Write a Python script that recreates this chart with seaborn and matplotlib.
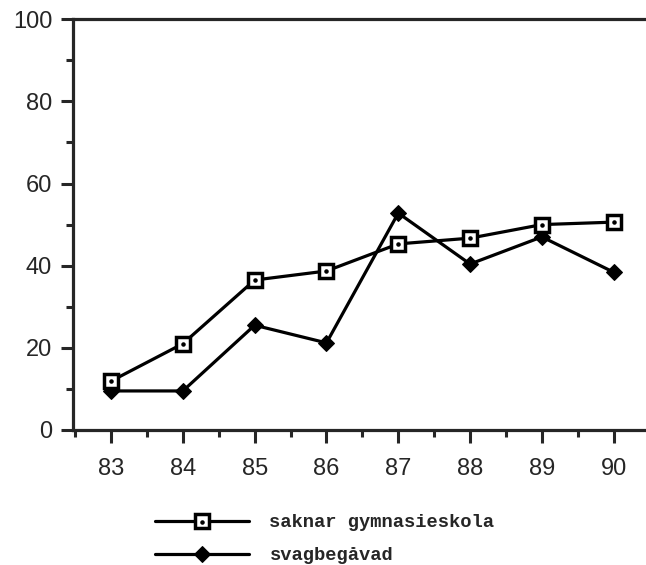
import matplotlib
matplotlib.use("Agg")
import matplotlib.pyplot as plt
import seaborn as sns
import pandas as pd
from matplotlib.ticker import MultipleLocator
from matplotlib.legend_handler import HandlerTuple

years = [83, 84, 85, 86, 87, 88, 89, 90]
saknar = [11.9, 21, 36.5, 38.7, 45.3, 46.7, 50, 50.6]
svag = [9.5, 9.5, 25.5, 21.2, 52.8, 40.4, 47, 38.4]
labels = ["saknar gymnasieskola", "svagbegåvad"]

sns.set_style("ticks")
plt.rcParams['font.family'] = ['Liberation Sans', 'DejaVu Sans']

fig = plt.figure(figsize=(6.46, 5.65), dpi=100)
ax = fig.add_axes([0.113, 0.239, 0.887, 0.727])

df = pd.DataFrame({"year": years, "saknar": saknar, "svag": svag})

sns.lineplot(data=df, x="year", y="svag", ax=ax, color="black", lw=2.3,
             marker="D", markersize=8.5, markerfacecolor="black",
             markeredgecolor="black")
sns.lineplot(data=df, x="year", y="saknar", ax=ax, color="black", lw=2.3,
             marker="s", markersize=9.5, markerfacecolor="white",
             markeredgecolor="black", markeredgewidth=2.5)
# the small dot inside each square
dots = ax.scatter(df["year"], df["saknar"], s=5, color="black", zorder=5)

ax.set_xlim(82.47, 90.45)
ax.set_ylim(0, 100)
ax.xaxis.set_major_locator(MultipleLocator(1))
ax.xaxis.set_minor_locator(MultipleLocator(0.5))
ax.yaxis.set_major_locator(MultipleLocator(20))
ax.yaxis.set_minor_locator(MultipleLocator(10))
ax.set_xlabel("")
ax.set_ylabel("")
ax.tick_params(which="major", direction="out", length=9, width=2.2,
               labelsize=17, pad=6)
ax.tick_params(axis="x", which="major", pad=11)
ax.tick_params(which="minor", direction="out", length=5, width=2.2)
for s in ["left", "bottom", "top"]:
    ax.spines[s].set_linewidth(2.3)
ax.spines["right"].set_visible(False)

l1 = ax.lines[1]
l2 = ax.lines[0]
leg = fig.legend([(l1, dots), l2], labels,
                 handler_map={tuple: HandlerTuple(ndivide=None, pad=-5)},
                 loc="upper left", bbox_to_anchor=(0.214, 0.12),
                 frameon=False, handlelength=5, handletextpad=1.1,
                 labelspacing=0.85,
                 prop={"family": "Liberation Mono", "weight": "bold", "size": 13.5})

fig.savefig("out.png", dpi=100)
